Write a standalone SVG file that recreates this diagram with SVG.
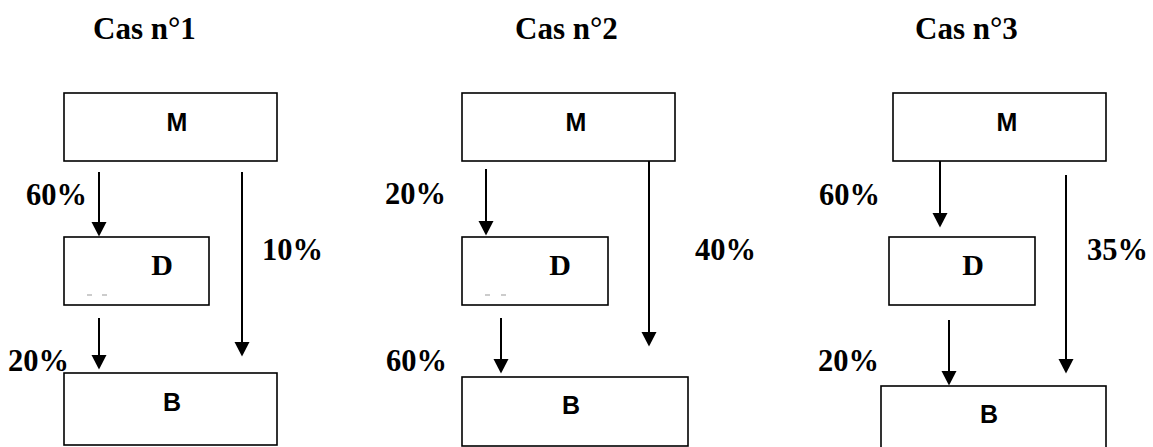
<svg xmlns="http://www.w3.org/2000/svg" width="1153" height="447" viewBox="0 0 1153 447">
  <style>
    .box { fill: #fff; stroke: #000; stroke-width: 1.6; }
    .lbl { font-family: "Liberation Sans", Arial, sans-serif; font-weight: bold; font-size: 25px; text-anchor: middle; fill: #000; }
    .dlbl { font-family: "Liberation Serif", "Times New Roman", serif; font-weight: bold; font-size: 30px; text-anchor: middle; fill: #000; }
    .pct { font-family: "Liberation Serif", "Times New Roman", serif; font-weight: bold; font-size: 30.5px; fill: #000; }
    .head { font-family: "Liberation Serif", "Times New Roman", serif; font-weight: bold; font-size: 31px; fill: #000; }
    .flow { stroke: #000; stroke-width: 2; fill: none; marker-end: url(#head); }
    .dash { stroke: #999; stroke-width: 1; }
  </style>
  <defs>
    <marker id="head" markerUnits="userSpaceOnUse" markerWidth="15" markerHeight="16" refX="4" refY="7.5" orient="auto" viewBox="0 0 15 15">
      <path d="M0,0 L14.5,7.5 L0,15 z" fill="#000"/>
    </marker>
  </defs>

  <!-- headings -->
  <g id="headings">
    <text class="head" x="93" y="39">Cas n°1</text>
    <text class="head" x="515" y="39">Cas n°2</text>
    <text class="head" x="915" y="39">Cas n°3</text>
  </g>

  <!-- case 1 -->
  <g id="c1-M"><rect class="box" x="64" y="93" width="213" height="68"/><text class="lbl" x="177" y="131">M</text></g>
  <g id="c1-D"><rect class="box" x="64" y="237" width="145" height="68"/><text class="dlbl" x="162" y="275">D</text>
    <line class="dash" x1="87" y1="295" x2="92" y2="295"/><line class="dash" x1="102" y1="295" x2="107" y2="295"/></g>
  <g id="c1-B"><rect class="box" x="64" y="373" width="213" height="72"/><text class="lbl" x="172" y="411">B</text></g>

  <!-- case 2 -->
  <g id="c2-M"><rect class="box" x="462" y="93" width="213" height="68"/><text class="lbl" x="576" y="131">M</text></g>
  <g id="c2-D"><rect class="box" x="462" y="237" width="146" height="68"/><text class="dlbl" x="560" y="275">D</text>
    <line class="dash" x1="485" y1="295" x2="490" y2="295"/><line class="dash" x1="501" y1="295" x2="506" y2="295"/></g>
  <g id="c2-B"><rect class="box" x="462" y="377" width="226" height="69"/><text class="lbl" x="571" y="414">B</text></g>

  <!-- case 3 -->
  <g id="c3-M"><rect class="box" x="893" y="93" width="213" height="68"/><text class="lbl" x="1007" y="131">M</text></g>
  <g id="c3-D"><rect class="box" x="889" y="237" width="146" height="68"/><text class="dlbl" x="973" y="275">D</text></g>
  <g id="c3-B"><rect class="box" x="881" y="386" width="225" height="72"/><text class="lbl" x="989" y="423">B</text></g>

  <!-- connectors (each ends 10px short; the arrowhead reaches the tip) -->
  <g id="connectors">
    <line class="flow" x1="99" y1="172" x2="99" y2="226"/>
    <line class="flow" x1="242" y1="172" x2="242" y2="346"/>
    <line class="flow" x1="99" y1="318" x2="99" y2="359"/>

    <line class="flow" x1="486" y1="169" x2="486" y2="225"/>
    <line class="flow" x1="649" y1="161" x2="649" y2="336"/>
    <line class="flow" x1="501" y1="318" x2="501" y2="363"/>

    <line class="flow" x1="940" y1="161" x2="940" y2="217"/>
    <line class="flow" x1="1066" y1="175" x2="1066" y2="363"/>
    <line class="flow" x1="949" y1="320" x2="949" y2="375"/>
  </g>

  <!-- percentages -->
  <g id="labels">
    <text class="pct" x="26" y="205">60%</text>
    <text class="pct" x="262" y="260">10%</text>
    <text class="pct" x="8" y="371">20%</text>

    <text class="pct" x="385" y="204">20%</text>
    <text class="pct" x="695" y="260">40%</text>
    <text class="pct" x="386" y="371">60%</text>

    <text class="pct" x="819" y="205">60%</text>
    <text class="pct" x="1087" y="260">35%</text>
    <text class="pct" x="818" y="371">20%</text>
  </g>
</svg>
